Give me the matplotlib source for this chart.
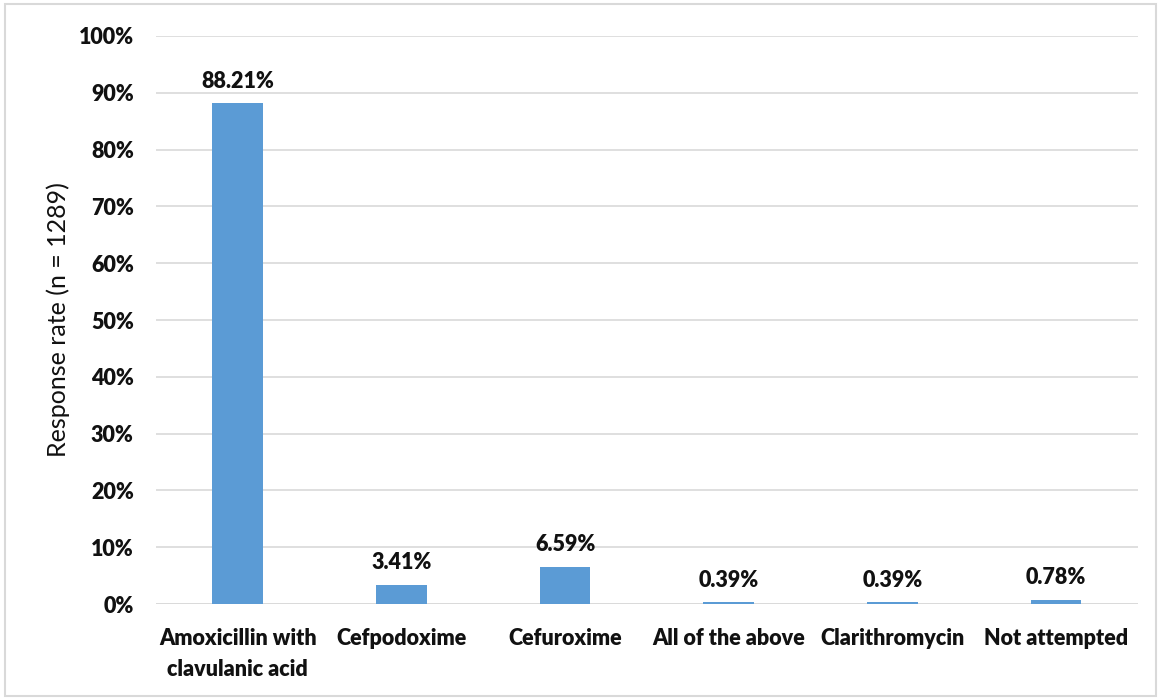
import matplotlib
matplotlib.use("Agg")
import matplotlib.pyplot as plt
from matplotlib.patches import Rectangle
from matplotlib.ticker import PercentFormatter

# ── Datos ─────────────────────────────────────────────────────────────────────
categorias = ["Amoxicillin with\nclavulanic acid", "Cefpodoxime", "Cefuroxime",
              "All of the above", "Clarithromycin", "Not attempted"]
valores = [88.21, 3.41, 6.59, 0.39, 0.39, 0.78]

AZUL = "#5b9bd5"
TXT = "#111111"
plt.rcParams["font.family"] = ["Lato", "DejaVu Sans"]

fig = plt.figure(figsize=(11.61, 7.0), dpi=100)
ax = fig.add_axes([0.1344, 0.137, 0.8456, 0.8116])

x = range(len(categorias))
ax.bar(x, valores, width=0.31, color=AZUL, zorder=3)

for xi, v in zip(x, valores):
    ax.text(xi, v + 2.0, f"{v:.2f}%", ha="center", va="bottom",
            fontsize=15.5, fontweight="heavy", color=TXT)

ax.set_xlim(-0.5, len(categorias) - 0.5)
ax.set_ylim(0, 100)
ax.set_yticks(range(0, 101, 10))
ax.yaxis.set_major_formatter(PercentFormatter(decimals=0))
ax.set_xticks(list(x))
ax.set_xticklabels(categorias, fontsize=15.5, fontweight="heavy", color=TXT,
                   linespacing=1.6, va="top")
for lbl in ax.get_yticklabels():
    lbl.set_fontsize(15.5)
    lbl.set_fontweight("heavy")
    lbl.set_color(TXT)

ax.tick_params(axis="both", length=0)
ax.tick_params(axis="y", pad=16)
ax.tick_params(axis="x", pad=17)
ax.grid(axis="y", color="#d9d9d9", linewidth=1.2, zorder=0)
for s in ax.spines.values():
    s.set_visible(False)
ax.axhline(0, color="#d9d9d9", linewidth=1.2, zorder=2)

ax.set_ylabel("Response rate (n = 1289)", fontsize=18, color=TXT, labelpad=6)

# borde exterior
fig.patches.append(Rectangle((0.004, 0.006), 0.992, 0.988, transform=fig.transFigure,
                             fill=False, edgecolor="#d9d9d9", linewidth=1.5))

fig.savefig("out.png", dpi=100)
